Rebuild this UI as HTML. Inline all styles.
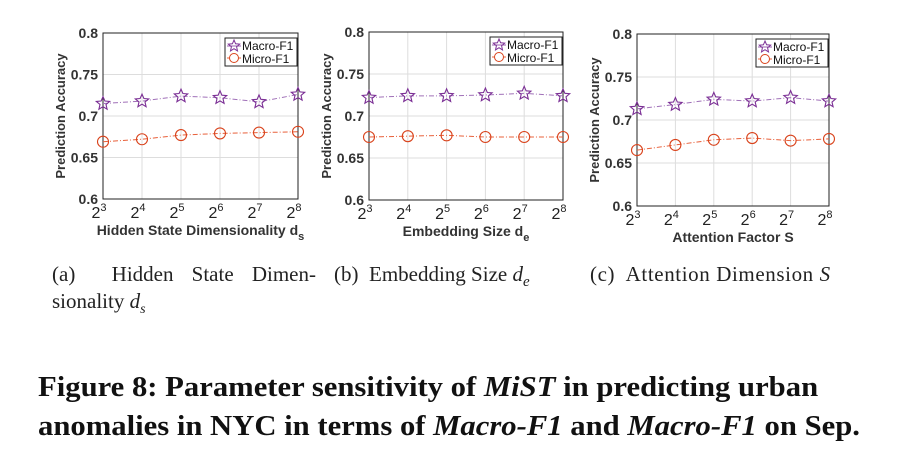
<!DOCTYPE html>
<html><head><meta charset="utf-8"><style>
body{margin:0;background:#fff;width:913px;height:460px;overflow:hidden;position:relative;font-family:"Liberation Serif",serif}
svg{position:absolute;left:0;top:0}
.cap{position:absolute;font-size:21px;color:#222;line-height:27px;white-space:nowrap}
.fig{position:absolute;left:38px;top:368px;font-size:28px;font-weight:bold;line-height:39px;color:#111;white-space:nowrap;transform-origin:0 0;transform:scaleX(1.095)}
</style></head><body>
<svg id="chart" width="913" height="460"></svg>
<div class="cap" style="left:52px;top:261px;width:264px;text-align:justify;text-align-last:justify;white-space:normal">(a)&nbsp; Hidden State Dimen-</div>
<div class="cap" style="left:52px;top:288px">sionality <i>d<sub style="font-size:14px">s</sub></i></div>
<div class="cap" style="left:334px;top:261px">(b)&nbsp; Embedding Size <i>d<sub style="font-size:15px">e</sub></i></div>
<div class="cap" style="left:590px;top:261px;letter-spacing:0.6px">(c)&nbsp; Attention Dimension <i>S</i></div>
<div class="fig">Figure 8: Parameter sensitivity of <i>MiST</i> in predicting urban<br>anomalies in NYC in terms of <i>Macro-F1</i> and <i>Macro-F1</i> on Sep.</div>
<script>
const categories=[3,4,5,6,7,8];
const yTicks=[0.6,0.65,0.7,0.75,0.8];
const yTickLabels=["0.6","0.65","0.7","0.75","0.8"];
const macroA=[0.715,0.718,0.724,0.722,0.717,0.726];
const microA=[0.669,0.672,0.677,0.679,0.680,0.681];
const macroB=[0.722,0.724,0.724,0.725,0.727,0.724];
const microB=[0.675,0.676,0.677,0.675,0.675,0.675];
const macroC=[0.713,0.718,0.724,0.722,0.726,0.722];
const microC=[0.665,0.671,0.677,0.679,0.676,0.678];
const NS="http://www.w3.org/2000/svg";
const svg=document.getElementById('chart');
function mk(t,a,p){const e=document.createElementNS(NS,t);for(const k in a)e.setAttribute(k,a[k]);(p||svg).appendChild(e);return e;}
const panels=[
 {l:103,r:298,t:33,b:199,mac:macroA,mic:microA,xl:"Hidden State Dimensionality d",sub:"s",id:"a"},
 {l:369,r:563,t:32,b:200,mac:macroB,mic:microB,xl:"Embedding Size d",sub:"e",id:"b"},
 {l:637,r:829,t:34,b:206,mac:macroC,mic:microC,xl:"Attention Factor S",sub:"",id:"c"}];
function star(cx,cy,r){let p=[];for(let i=0;i<10;i++){const a=-Math.PI/2+i*Math.PI/5;const rr=i%2?r*0.45:r;p.push((cx+rr*Math.cos(a)).toFixed(1)+","+(cy+rr*Math.sin(a)).toFixed(1));}return p.join(" ");}
panels.forEach(P=>{
 const g=mk('g',{});
 
 
 const x=i=>P.l+(P.r-P.l)*(categories[i]-3)/5;
 const y=v=>P.b-(P.b-P.t)*(v-0.6)/0.2;
 categories.forEach((c,i)=>{mk('line',{x1:x(i),x2:x(i),y1:P.t,y2:P.b,stroke:'#ddd','stroke-width':1},g);
  const tx=mk('text',{x:x(i)-4,y:P.b+19,'font-family':'Liberation Sans','font-size':16,'text-anchor':'middle',fill:'#222'},g);
  tx.textContent='2';const s=mk('tspan',{dy:-7,'font-size':11},tx);s.textContent=c;});
 yTicks.forEach((v,i)=>{mk('line',{x1:P.l,x2:P.r,y1:y(v),y2:y(v),stroke:'#ddd','stroke-width':1},g);
  const t=mk('text',{x:P.l-5,y:y(v)+5,'font-family':'Liberation Sans','font-size':14,'font-weight':'bold','text-anchor':'end',fill:'#333'},g);t.textContent=yTickLabels[i];});
 mk('rect',{x:P.l,y:P.t,width:P.r-P.l,height:P.b-P.t,fill:'none',stroke:'#222','stroke-width':1},g);
 const yl=mk('text',{x:0,y:0,transform:`translate(${P.l-38},${(P.t+P.b)/2}) rotate(-90)`,'font-family':'Liberation Sans','font-size':13,'font-weight':'bold','text-anchor':'middle',fill:'#333'},g);
 yl.textContent='Prediction Accuracy';
 const xl=mk('text',{x:(P.l+P.r)/2,y:P.b+36,'font-family':'Liberation Sans','font-size':14,'font-weight':'bold','text-anchor':'middle',fill:'#333'},g);
 xl.textContent=P.xl; if(P.sub){const s=mk('tspan',{dy:5,'font-size':11},xl);s.textContent=P.sub;}
 const lm=mk('polyline',{points:P.mac.map((v,i)=>x(i)+','+y(v)).join(' '),fill:'none',stroke:'#a070b8','stroke-width':1,'stroke-dasharray':'5 2 1 2'},g);
 
 const li=mk('polyline',{points:P.mic.map((v,i)=>x(i)+','+y(v)).join(' '),fill:'none',stroke:'#e8603a','stroke-width':1,'stroke-dasharray':'5 2 1 2'},g);
 
 P.mac.forEach((v,i)=>{const s=mk('polygon',{points:star(x(i),y(v),7),fill:'none',stroke:'#7b2f95','stroke-width':1.1},g);
  });
 P.mic.forEach((v,i)=>{const s=mk('circle',{cx:x(i),cy:y(v),r:5.5,fill:'none',stroke:'#d9431c','stroke-width':1.1},g);
  });
 const L=mk('g',{},g);
 
 const lx=P.r-73,ly=P.t+5;
 mk('rect',{x:lx,y:ly,width:72,height:28,fill:'#fff',stroke:'#222','stroke-width':1},L);
 mk('line',{x1:lx+2,x2:lx+16,y1:ly+8,y2:ly+8,stroke:'#9a5fb0'},L);
 mk('polygon',{points:star(lx+9,ly+8,6),fill:'none',stroke:'#7b2f95'},L);
 mk('line',{x1:lx+2,x2:lx+16,y1:ly+20,y2:ly+20,stroke:'#e8603a'},L);
 mk('circle',{cx:lx+9,cy:ly+20,r:4.5,fill:'#fff',stroke:'#d9431c'},L);
 const t1=mk('text',{x:lx+17,y:ly+12,'font-family':'Liberation Sans','font-size':12,fill:'#111'},L);t1.textContent='Macro-F1';
 const t2=mk('text',{x:lx+17,y:ly+25,'font-family':'Liberation Sans','font-size':12,fill:'#111'},L);t2.textContent='Micro-F1';
});
</script>
</body></html>
